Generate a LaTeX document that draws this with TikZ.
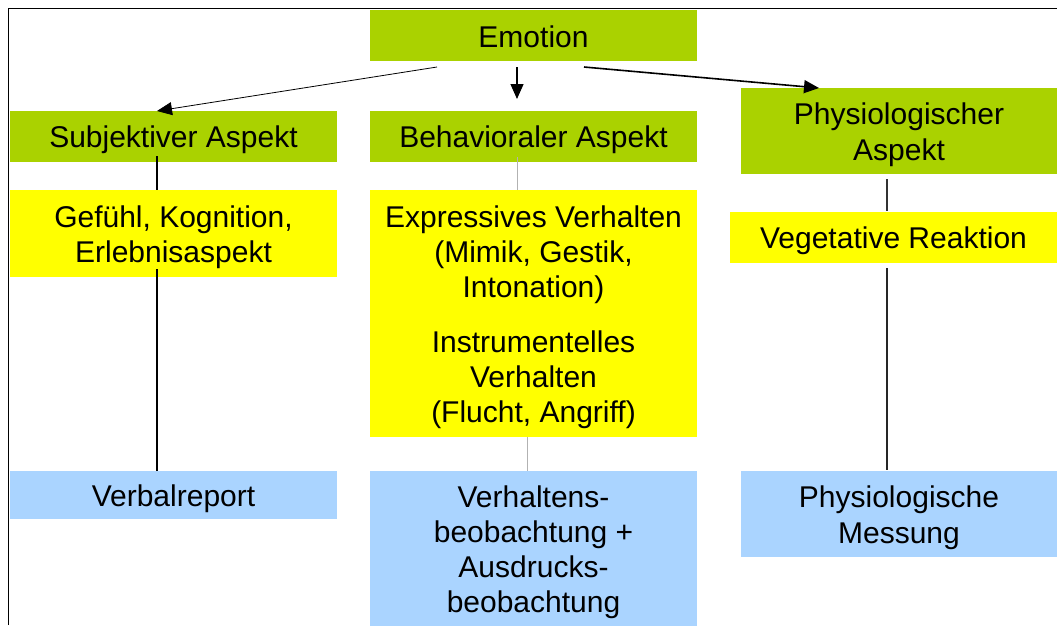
\documentclass[tikz,border=0pt]{standalone}
\usepackage{fontspec}
\setmainfont{Liberation Sans}
\usetikzlibrary{arrows.meta}
\definecolor{boxgreen}{RGB}{170,210,0}
\definecolor{boxyellow}{RGB}{255,255,0}
\definecolor{boxblue}{RGB}{170,212,255}
\newcommand\topstr{\rule{0pt}{29pt}}
\newcommand\botstr{\rule[-5pt]{0pt}{5pt}}
\tikzset{
  box/.style={inner sep=0pt, outer sep=0pt, align=center, font=\fontsize{30}{35}\selectfont},
  wide/.style={font=\fontsize{30}{36}\selectfont},
  gbox/.style={box, fill=boxgreen},
  ybox/.style={box, fill=boxyellow},
  bbox/.style={box, fill=boxblue},
  arr/.style={-{Triangle[length=15pt,width=13pt]}, black},
  conn/.style={line width=1.6pt, black},
  lconn/.style={line width=0.9pt, black!30},
}
\begin{document}
\begin{tikzpicture}[x=1pt,y=-1pt]
\useasboundingbox (0,0) rectangle (1057,625);
% frame
\draw[line width=1.4pt] (8.5,625) -- (8.5,8.5) -- (1057,8.5);
% boxes
\node[gbox, minimum width=327pt, minimum height=51pt] (emo) at (533.5,35.5) {\topstr Emotion\botstr};
\node[gbox, minimum width=327pt, minimum height=51pt] (subj) at (173.5,136.5) {\topstr Subjektiver Aspekt\botstr};
\node[gbox, minimum width=327pt, minimum height=51pt] (beh) at (533.5,136.5) {\topstr Behavioraler Aspekt\botstr};
\node[gbox, wide, minimum width=316pt, minimum height=86pt] (phys) at (899,131) {\topstr Physiologischer\\Aspekt\botstr};
\node[ybox, minimum width=327pt, minimum height=87pt] (gef) at (173.5,233.5) {\topstr Gefühl, Kognition,\\Erlebnisaspekt\botstr};
\node[ybox, minimum width=327pt, minimum height=247pt] (expr) at (533.5,313.5) {\topstr Expressives Verhalten\\(Mimik, Gestik,\\Intonation)\\[20pt]Instrumentelles\\Verhalten\\(Flucht, Angriff)\botstr};
\node[ybox, minimum width=327pt, minimum height=51pt] (veg) at (893.5,237.5) {\topstr Vegetative Reaktion\botstr};
\node[bbox, minimum width=327pt, minimum height=48pt] (verb) at (173.5,495) {\topstr Verbalreport\botstr};
\node[bbox, minimum width=327pt, minimum height=156pt] (verh) at (533.5,549) {\topstr Verhaltens-\\beobachtung +\\Ausdrucks-\\beobachtung\botstr};
\node[bbox, wide, minimum width=316pt, minimum height=86pt] (mess) at (899,514) {\topstr Physiologische\\Messung\botstr};
% arrows
\draw[arr, line width=0.8pt] ([xshift=-96.5pt,yshift=-6pt]emo.south) -- ([xshift=-16.5pt]subj.north);
\draw[arr, line width=1.2pt] ([xshift=-16.5pt,yshift=-6pt]emo.south) -- ([xshift=-16.5pt,yshift=12pt]beh.north);
\draw[arr, line width=1.6pt] ([xshift=50.5pt,yshift=-6pt]emo.south) -- ([xshift=-80pt]phys.north);
% connectors
\draw[conn] ([xshift=-16.5pt,yshift=6pt]subj.south) -- ([xshift=-16.5pt]gef.north);
\draw[conn] ([xshift=-16.5pt,yshift=8pt]gef.south) -- ([xshift=-16.5pt]verb.north);
\draw[lconn] ([xshift=-16.5pt,yshift=5pt]beh.south) -- ([xshift=-16.5pt]expr.north);
\draw[lconn] ([xshift=-6.5pt]expr.south) -- ([xshift=-6.5pt]verh.north);
\draw[line width=1.2pt, black!80] ([xshift=-12pt,yshift=-5pt]phys.south) -- ([xshift=-6.5pt,yshift=1pt]veg.north);
\draw[line width=1.4pt, black!85] ([xshift=-6.5pt,yshift=-5pt]veg.south) -- ([xshift=-12pt,yshift=1pt]mess.north);
\end{tikzpicture}
\end{document}
